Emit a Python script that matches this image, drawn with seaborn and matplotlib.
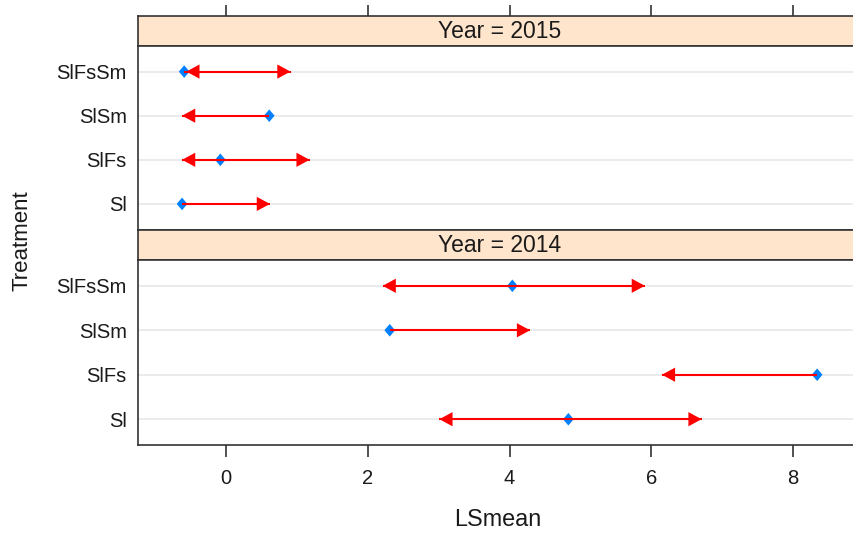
import matplotlib
matplotlib.use("Agg")
import matplotlib.pyplot as plt
import seaborn as sns
import numpy as np
import pandas as pd

# ---- data ----
treatments = ["Sl", "SlFs", "SlSm", "SlFsSm"]          # bottom -> top
years = ["2015", "2014"]                               # top panel -> bottom panel
lsmean_2015 = [-0.62, -0.08, 0.61, -0.59]
lsmean_2014 = [4.83, 8.34, 2.31, 4.04]
arrow_left_2015 = [np.nan, -0.62, -0.62, -0.56]
arrow_right_2015 = [0.62, 1.18, np.nan, 0.91]
arrow_left_2014 = [3.01, 6.15, np.nan, 2.21]
arrow_right_2014 = [6.71, np.nan, 4.29, 5.91]
x_ticks = [0, 2, 4, 6, 8]
x_label = "LSmean"
y_label = "Treatment"

sns.set_style("white")
plt.rcParams["font.family"] = ["Liberation Sans", "DejaVu Sans"]

W, H = 854, 533
fig = plt.figure(figsize=(W / 100, H / 100), dpi=100)

def fx(px):
    return px / W

def fy(px):
    return 1 - px / H

left_px, right_px = 138, 862
xlim = (-1.2416, 8.973)
border_col = "#333333"
strip_col = "#ffe5cc"
point_col = "#0080ff"
arrow_col = "#ff0000"
grid_col = "#e9e9e9"
text_col = "#1a1a1a"

# arrow head marker: tip at origin
head_right = [(0, 0), (-1, 0.54), (-1, -0.54), (0, 0)]
head_left = [(0, 0), (1, 0.54), (1, -0.54), (0, 0)]
diamond = [(0, 1), (0.85, 0), (0, -1), (-0.85, 0), (0, 1)]

panels = {
    "2015": dict(mean=lsmean_2015, lo=arrow_left_2015, hi=arrow_right_2015,
                 strip=(16, 46), panel=(46, 229.5)),
    "2014": dict(mean=lsmean_2014, lo=arrow_left_2014, hi=arrow_right_2014,
                 strip=(229.5, 260), panel=(260, 445)),
}

for i, yr in enumerate(years):
    p = panels[yr]
    s0, s1 = p["strip"]
    p0, p1 = p["panel"]
    # strip
    sax = fig.add_axes([fx(left_px), fy(s1), fx(right_px - left_px), (s1 - s0) / H])
    sax.set_facecolor(strip_col)
    sax.set_xlim(*xlim)
    sax.set_ylim(0, 1)
    sax.set_yticks([])
    if i == 0:
        sax.xaxis.tick_top()
        sax.set_xticks(x_ticks)
        sax.tick_params(axis="x", top=True, bottom=False, direction="out", length=8.2,
                        width=1.2, color=border_col, labeltop=False, labelbottom=False)
    else:
        sax.set_xticks([])
    for sp in sax.spines.values():
        sp.set_color(border_col)
        sp.set_linewidth(1.2)
    sax.text(0.5, 0.48, f"Year = {yr}", transform=sax.transAxes, ha="center",
             va="center", fontsize=16.5, color=text_col)

    # panel
    ax = fig.add_axes([fx(left_px), fy(p1), fx(right_px - left_px), (p1 - p0) / H])
    df = pd.DataFrame({"Treatment": treatments, "pos": np.arange(len(treatments)),
                       "LSmean": p["mean"], "lo": p["lo"], "hi": p["hi"]})
    for yv in df["pos"]:
        ax.axhline(yv, color=grid_col, lw=1.3, zorder=0)
    sns.scatterplot(data=df, x="LSmean", y="pos", marker=diamond, s=82,
                    color=point_col, edgecolor="none", linewidth=0, ax=ax, zorder=3)
    dlo = df.dropna(subset=["lo"])
    dhi = df.dropna(subset=["hi"])
    ax.hlines(dlo["pos"], dlo["LSmean"], dlo["lo"], color=arrow_col, lw=1.5, zorder=4)
    ax.hlines(dhi["pos"], dhi["LSmean"], dhi["hi"], color=arrow_col, lw=1.5, zorder=4)
    sns.scatterplot(data=dlo, x="lo", y="pos", marker=head_left, s=19.0 ** 2,
                    color=arrow_col, edgecolor="none", linewidth=0, ax=ax, zorder=5)
    sns.scatterplot(data=dhi, x="hi", y="pos", marker=head_right, s=19.0 ** 2,
                    color=arrow_col, edgecolor="none", linewidth=0, ax=ax, zorder=5)
    ax.set_xlim(*xlim)
    ax.set_ylim(-0.58, 3.58)
    ax.set_yticks(df["pos"])
    ax.set_yticklabels(df["Treatment"])
    ax.set_xlabel("")
    ax.set_ylabel("")
    ax.tick_params(axis="y", length=0, pad=8, labelsize=14.5, labelcolor=text_col)
    if i == len(years) - 1:
        ax.set_xticks(x_ticks)
        ax.set_xticklabels([str(t) for t in x_ticks])
        ax.tick_params(axis="x", bottom=True, direction="out", length=8.6, width=1.2,
                       color=border_col, pad=8.5, labelsize=14.5, labelcolor=text_col)
    else:
        ax.set_xticks([])
    for sp in ax.spines.values():
        sp.set_color(border_col)
        sp.set_linewidth(1.2)

fig.text(fx(22), fy(241), y_label, rotation=90, ha="center", va="center",
         fontsize=16, color=text_col)
fig.text(fx(498), fy(519), x_label, ha="center", va="center", fontsize=16.8,
         color=text_col)

fig.savefig("out.png", dpi=100)
